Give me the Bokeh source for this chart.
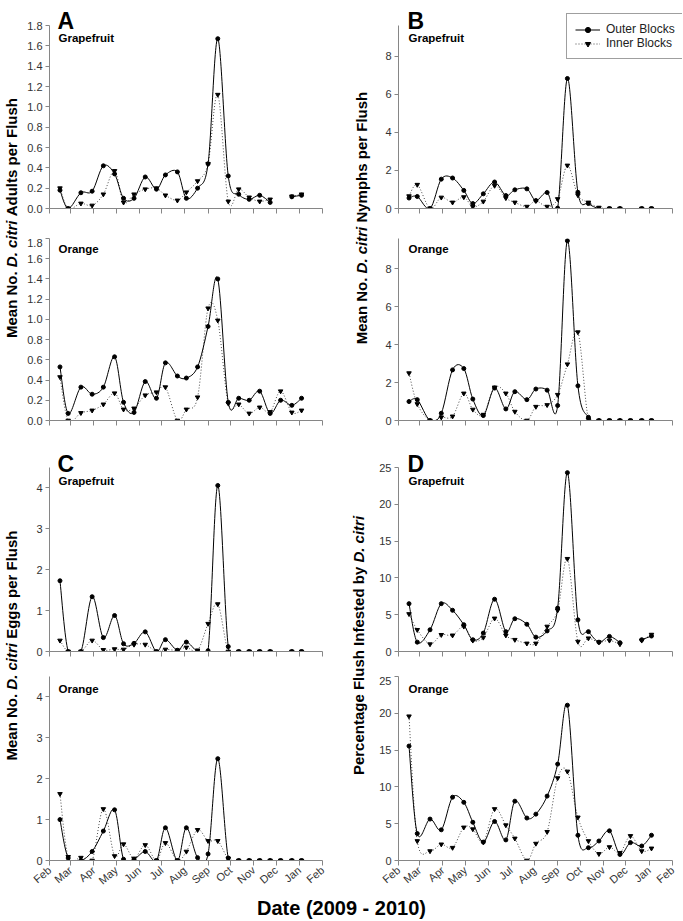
import math
import pandas as pd
from bokeh.plotting import figure
from bokeh.layouts import row, column
from bokeh.models import (Range1d, FixedTicker, NumeralTickFormatter, Legend,
                          LegendItem, ColumnDataSource)
from bokeh.core.properties import value
from bokeh.embed import file_html
from bokeh.resources import INLINE

nan = float("nan")

# ---------------- data ----------------
sample_dates = ["2009-02-15", "2009-02-26", "2009-03-15", "2009-03-30", "2009-04-14",
                "2009-04-29", "2009-05-11", "2009-05-25", "2009-06-09", "2009-06-24",
                "2009-07-06", "2009-07-22", "2009-08-03", "2009-08-18", "2009-09-01",
                "2009-09-14", "2009-09-28", "2009-10-12", "2009-10-26", "2009-11-09",
                "2009-11-23", "2009-12-07", "2009-12-22", "2010-01-04"]
month_starts = ["2009-02-01", "2009-03-01", "2009-04-01", "2009-05-01", "2009-06-01",
                "2009-07-01", "2009-08-01", "2009-09-01", "2009-10-01", "2009-11-01",
                "2009-12-01", "2010-01-01", "2010-02-01"]
month_labels = ["Feb", "Mar", "Apr", "May", "Jun", "Jul", "Aug", "Sep", "Oct", "Nov",
                "Dec", "Jan", "Feb"]

adults_grape_outer = [0.18, 0.0, 0.155, 0.17, 0.42, 0.34, 0.10, 0.10, 0.31, 0.19, 0.33, 0.36,
                      0.10, 0.20, 0.44, 1.67, 0.32, 0.14, 0.09, 0.13, 0.06, nan, 0.115, 0.13]
adults_grape_inner = [0.20, 0.0, 0.05, 0.03, 0.14, 0.37, 0.06, 0.14, 0.19, 0.20, 0.13, 0.08,
                      0.16, 0.27, 0.44, 1.12, 0.07, 0.19, 0.11, 0.07, 0.09, nan, 0.12, 0.14]
adults_orange_outer = [0.53, 0.07, 0.33, 0.26, 0.33, 0.63, 0.18, 0.08, 0.385, 0.22, 0.57, 0.44,
                       0.42, 0.53, 0.93, 1.40, 0.18, 0.22, 0.20, 0.29, 0.07, 0.20, 0.15, 0.22]
adults_orange_inner = [0.43, 0.0, 0.075, 0.10, 0.16, 0.27, 0.11, 0.12, 0.25, 0.28, 0.33, 0.0,
                       0.11, 0.23, 1.11, 0.99, 0.17, 0.16, 0.07, 0.13, 0.085, 0.29, 0.08, 0.10]

nymphs_grape_outer = [0.55, 0.63, 0.0, 1.54, 1.60, 0.95, 0.26, 0.77, 1.39, 0.68, 0.98, 1.03,
                      0.42, 0.84, 0.02, 6.82, 0.85, 0.26, 0.0, 0.0, 0.0, nan, 0.0, 0.0]
nymphs_grape_inner = [0.65, 1.25, 0.0, 0.58, 0.32, 0.60, 0.09, 0.37, 1.20, 0.55, 0.32, 0.10,
                      0.40, 0.10, 0.50, 2.26, 0.70, 0.32, 0.05, 0.0, 0.0, nan, 0.0, 0.0]
nymphs_orange_outer = [1.0, 1.1, 0.0, 0.38, 2.67, 2.74, 1.13, 0.26, 1.71, 0.61, 1.52, 1.1,
                       1.66, 1.6, 0.79, 9.48, 1.83, 0.17, 0.0, 0.0, 0.0, 0.0, 0.0, 0.0]
nymphs_orange_inner = [2.5, 0.87, 0.0, 0.17, 0.22, 1.43, 0.58, 0.31, 1.75, 1.43, 0.47, 0.0,
                       0.73, 0.82, 1.36, 2.97, 4.66, 0.05, 0.0, 0.0, 0.0, 0.0, 0.0, 0.0]

eggs_grape_outer = [1.73, 0.0, 0.0, 1.34, 0.34, 0.88, 0.19, 0.20, 0.48, 0.0, 0.29, 0.03,
                    0.23, 0.0, 0.02, 4.06, 0.12, 0.0, 0.0, 0.0, 0.0, nan, 0.0, 0.0]
eggs_grape_inner = [0.27, 0.0, 0.0, 0.27, 0.04, 0.06, 0.05, 0.17, 0.17, 0.0, 0.05, 0.03,
                    0.10, 0.03, 0.68, 1.16, 0.0, 0.0, 0.0, 0.0, 0.0, nan, 0.0, 0.0]
eggs_orange_outer = [1.0, 0.06, 0.0, 0.22, 0.72, 1.24, 0.03, 0.03, 0.22, 0.0, 0.80, 0.0,
                     0.80, 0.07, 0.16, 2.49, 0.06, 0.0, 0.0, 0.0, 0.0, 0.0, 0.0, 0.0]
eggs_orange_inner = [1.63, 0.09, 0.07, 0.0, 1.26, 0.11, 0.40, 0.05, 0.38, 0.0, 0.43, 0.0,
                     0.22, 0.75, 0.48, 0.48, 0.05, 0.0, 0.0, 0.0, 0.0, 0.0, 0.0, 0.0]

pct_grape_outer = [6.5, 1.27, 2.95, 6.5, 5.6, 3.64, 1.6, 2.5, 7.1, 2.7, 4.45, 3.7,
                   1.95, 2.8, 5.9, 24.3, 4.3, 2.7, 1.27, 2.05, 1.2, nan, 1.6, 2.1]
pct_grape_inner = [5.1, 2.95, 1.0, 2.27, 2.2, 3.4, 1.5, 1.9, 4.5, 2.2, 1.6, 1.1,
                   1.1, 3.4, 5.6, 12.6, 1.35, 1.8, 1.27, 1.5, 1.0, nan, 1.5, 2.3]
pct_orange_outer = [15.55, 3.66, 5.63, 4.17, 8.6, 7.9, 5.2, 2.5, 5.3, 2.8, 8.06, 5.77,
                    6.3, 8.75, 13.1, 21.1, 3.43, 1.74, 2.65, 4.03, 0.82, 2.43, 1.97, 3.43]
pct_orange_inner = [19.6, 2.65, 1.28, 2.2, 1.74, 4.5, 4.26, 2.5, 7.0, 4.8, 3.0, 0.0,
                    2.3, 3.9, 11.2, 12.1, 5.86, 2.65, 0.9, 1.83, 1.05, 3.34, 1.28, 1.65]

yticks_adults = [0.0, 0.2, 0.4, 0.6, 0.8, 1.0, 1.2, 1.4, 1.6, 1.8]
yticks_nymphs = [0, 2, 4, 6, 8]
yticks_eggs = [0, 1, 2, 3, 4]
yticks_pct = [0, 5, 10, 15, 20, 25]
ymax_adults, ymax_nymphs, ymax_eggs, ymax_pct = 1.8, 9.6, 4.5, 25

series_labels = ["Outer Blocks", "Inner Blocks"]
crop_labels = ["Grapefruit", "Orange"]
panel_letters = ["A", "B", "C", "D"]
ytitles = [
    [("Mean No.", "bold"), ("D. citri", "bold italic"), ("Adults per Flush", "bold")],
    [("Mean No.", "bold"), ("D. citri", "bold italic"), ("Nymphs per Flush", "bold")],
    [("Mean No.", "bold"), ("D. citri", "bold italic"), ("Eggs per Flush", "bold")],
    [("Percentage Flush Infested by", "bold"), ("D. citri", "bold italic")],
]
xtitle = "Date (2009 - 2010)"

# ---------------- helpers ----------------
FONT = "Liberation Sans"
AXIS_COL = "#868686"
INNER_COL = "#4a4a4a"
origin = pd.Timestamp(month_starts[0])


def to_days(lst):
    return [(pd.Timestamp(d) - origin).days for d in lst]


xs = to_days(sample_dates)
xticks = to_days(month_starts)
X_END = xticks[-1]

BOLD_W = {' ': 278, 'M': 833, 'e': 556, 'a': 556, 'n': 611, 'N': 722, 'o': 611, '.': 278,
          'D': 722, 'c': 556, 'i': 278, 't': 333, 'r': 389, 'A': 722, 'd': 611, 'u': 611,
          'l': 278, 's': 556, 'p': 611, 'F': 611, 'h': 611, 'y': 556, 'm': 889, 'E': 667,
          'g': 611, 'P': 667, 'f': 333, 'b': 611, 'I': 278}


def text_w(s, size):
    return sum(BOLD_W.get(ch, 600) for ch in s) * size / 1000.0


def smooth_source(x, y):
    d = dict(x0=[], y0=[], x1=[], y1=[], cx0=[], cy0=[], cx1=[], cy1=[])
    runs, cur = [], []
    for xi, yi in zip(x, y):
        if yi is None or (isinstance(yi, float) and math.isnan(yi)):
            if cur:
                runs.append(cur)
            cur = []
        else:
            cur.append((xi, yi))
    if cur:
        runs.append(cur)
    for r in runs:
        n = len(r)
        for i in range(n - 1):
            p0 = r[i - 1] if i > 0 else r[i]
            p1, p2 = r[i], r[i + 1]
            p3 = r[i + 2] if i + 2 < n else r[i + 1]
            d["x0"].append(p1[0]); d["y0"].append(p1[1])
            d["x1"].append(p2[0]); d["y1"].append(p2[1])
            d["cx0"].append(p1[0] + (p2[0] - p0[0]) / 6.0)
            d["cy0"].append(p1[1] + (p2[1] - p0[1]) / 6.0)
            d["cx1"].append(p2[0] - (p3[0] - p1[0]) / 6.0)
            d["cy1"].append(p2[1] - (p3[1] - p1[1]) / 6.0)
    return ColumnDataSource(d)


def blank_fig(w, h):
    f = figure(width=w, height=h, x_range=Range1d(0, w), y_range=Range1d(0, h),
               toolbar_location=None, output_backend="svg", min_border=0,
               x_axis_type=None, y_axis_type=None, title=None)
    f.grid.visible = False
    f.outline_line_color = None
    return f


LEFT_ML, LEFT_MR, LEFT_FW = 27, 22, 273
RIGHT_ML, RIGHT_FW, RIGHT_AX = 24, 284, 274
LEFT_TW = 22


def panel(side, outer, inner, yticks, ymax, fmt, frame_h, top_pad, mb, xlabels,
          letter=None, letter_base=0, crop="", crop_base=0, text_dx=9, legend=False):
    if side == "left":
        ml, mr, fw = LEFT_ML, LEFT_MR, LEFT_FW
        xr = Range1d(0, X_END)
    else:
        ml, mr, fw = RIGHT_ML, 0, RIGHT_FW
        xr = Range1d(0, X_END * RIGHT_FW / float(RIGHT_AX))
    y_end = ymax * frame_h / float(frame_h - top_pad)
    p = figure(frame_width=fw, frame_height=frame_h, x_range=xr,
               y_range=Range1d(0, y_end), toolbar_location=None, output_backend="svg",
               min_border_left=ml, min_border_right=mr, min_border_top=0,
               min_border_bottom=mb, title=None)
    p.grid.visible = False
    p.outline_line_color = None
    p.background_fill_color = "white"
    p.border_fill_color = "white"

    for ax in (p.xaxis[0], p.yaxis[0]):
        ax.axis_line_color = AXIS_COL
        ax.major_tick_line_color = AXIS_COL
        ax.minor_tick_line_color = None
        ax.major_tick_in = 0
        ax.major_label_text_font = FONT
        ax.major_label_text_font_size = "11px"
        ax.major_label_text_color = "#333333"
        ax.major_label_standoff = 3
    p.xaxis.ticker = FixedTicker(ticks=xticks)
    p.xaxis.bounds = (0, X_END)
    p.xaxis.major_tick_out = 5
    p.xaxis.major_label_orientation = 0.7
    if xlabels:
        p.xaxis.major_label_overrides = {t: lab for t, lab in zip(xticks, month_labels)}
    else:
        p.xaxis.major_label_overrides = {t: "" for t in xticks}
        p.xaxis.major_label_text_color = None
    p.yaxis.ticker = FixedTicker(ticks=yticks)
    p.yaxis.formatter = NumeralTickFormatter(format=fmt)
    p.yaxis.bounds = (0, ymax)
    p.yaxis.major_tick_out = 4

    src_o = smooth_source(xs, outer)
    src_i = smooth_source(xs, inner)
    p.bezier(x0="x0", y0="y0", x1="x1", y1="y1", cx0="cx0", cy0="cy0", cx1="cx1",
             cy1="cy1", source=src_i, line_color=INNER_COL, line_width=1.0,
             line_dash="1 2")
    p.bezier(x0="x0", y0="y0", x1="x1", y1="y1", cx0="cx0", cy0="cy0", cx1="cx1",
             cy1="cy1", source=src_o, line_color="black", line_width=1.0)
    ri = p.scatter(xs, inner, marker="inverted_triangle", size=4.5, color="black")
    ro = p.scatter(xs, outer, marker="circle", size=4, color="black")

    if letter:
        p.text(x=[0], y=[y_end], text=[letter], x_offset=text_dx - 1,
               y_offset=letter_base, text_font=value(FONT), text_font_style="bold",
               text_font_size="23px", text_baseline="alphabetic", text_align="left",
               text_color="black")
    p.text(x=[0], y=[y_end], text=[crop], x_offset=text_dx, y_offset=crop_base,
           text_font=value(FONT), text_font_style="bold", text_font_size="11.5px",
           text_baseline="alphabetic", text_align="left", text_color="black")

    if legend:
        lo = p.line(x=[nan], y=[nan], line_color="black", line_width=1.0)
        li = p.line(x=[nan], y=[nan], line_color=INNER_COL, line_width=1.0,
                    line_dash="1 2")
        leg = Legend(items=[LegendItem(label=series_labels[0], renderers=[lo, ro]),
                            LegendItem(label=series_labels[1], renderers=[li, ri])],
                     location=(168, 149), border_line_color="#404040",
                     border_line_width=1, padding=8, spacing=0, glyph_width=25,
                     glyph_height=13, label_height=13, label_standoff=6, margin=0,
                     label_text_font=FONT, label_text_font_size="12px",
                     label_text_color="#222222", background_fill_alpha=1)
        p.add_layout(leg)
    return p


def vtitle(w, h, pieces, xc, yc, size=15):
    f = blank_fig(w, h)
    space = text_w(" ", size)
    widths = [text_w(t, size) for t, _ in pieces]
    total = sum(widths) + space * (len(pieces) - 1)
    y = yc - total / 2.0
    for (t, style), wd in zip(pieces, widths):
        f.text(x=[xc], y=[y], text=[t], angle=math.pi / 2, text_font=value(FONT),
               text_font_style=style, text_font_size="%gpx" % size,
               text_baseline="middle", text_align="left", text_color="black")
        y += wd + space
    return f


# ---------------- panels ----------------
A_g = panel("left", adults_grape_outer, adults_grape_inner, yticks_adults, ymax_adults,
            "0.0", 208, 25, 30, False, panel_letters[0], 20, crop_labels[0], 37, 9)
A_o = panel("left", adults_orange_outer, adults_orange_inner, yticks_adults, ymax_adults,
            "0.0", 182, 0, 22, False, None, 0, crop_labels[1], 10, 9)
B_g = panel("right", nymphs_grape_outer, nymphs_grape_inner, yticks_nymphs, ymax_nymphs,
            "0", 208, 25, 30, False, panel_letters[1], 20, crop_labels[0], 37, 10,
            legend=True)
B_o = panel("right", nymphs_orange_outer, nymphs_orange_inner, yticks_nymphs, ymax_nymphs,
            "0", 182, 0, 22, False, None, 0, crop_labels[1], 10, 10)
C_g = panel("left", eggs_grape_outer, eggs_grape_inner, yticks_eggs, ymax_eggs,
            "0", 209, 25, 25, False, panel_letters[2], 21, crop_labels[0], 38, 9)
C_o = panel("left", eggs_orange_outer, eggs_orange_inner, yticks_eggs, ymax_eggs,
            "0", 184, 0, 32, True, None, 0, crop_labels[1], 12, 9)
D_g = panel("right", pct_grape_outer, pct_grape_inner, yticks_pct, ymax_pct,
            "0", 209, 25, 25, False, panel_letters[3], 21, crop_labels[0], 38, 10)
D_o = panel("right", pct_orange_outer, pct_orange_inner, yticks_pct, ymax_pct,
            "0", 184, 0, 32, True, None, 0, crop_labels[1], 12, 10)

TOP_H = 238 + 204
BOT_H = 234 + 216
TA = vtitle(LEFT_TW, TOP_H, ytitles[0], 11.3, TOP_H - 217.5)
TB = vtitle(30, TOP_H, ytitles[1], 17, TOP_H - 217.5)
TC = vtitle(LEFT_TW, BOT_H, ytitles[2], 11.3, BOT_H - 203)
TD = vtitle(30, BOT_H, ytitles[3], 13.5, BOT_H - 203)

date_fig = blank_fig(682, 27)
date_fig.text(x=[341], y=[14], text=[xtitle], text_font=value(FONT),
              text_font_style="bold", text_font_size="20px", text_baseline="middle",
              text_align="center", text_color="black")

layout = column(
    row(TA, column(A_g, A_o), TB, column(B_g, B_o)),
    row(TC, column(C_g, C_o), TD, column(D_g, D_o)),
    date_fig,
)

open("out.html", "w").write(file_html(layout, INLINE))
